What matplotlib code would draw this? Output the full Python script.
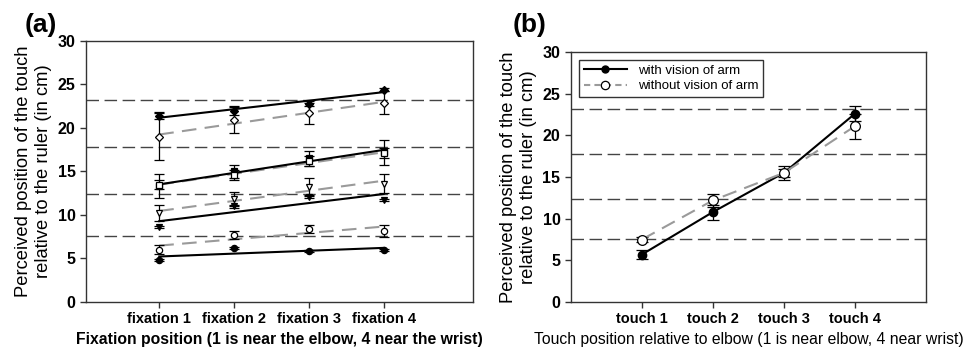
import matplotlib
matplotlib.use("Agg")
import matplotlib.pyplot as plt
from matplotlib.lines import Line2D
import numpy as np

plt.rcParams['font.family'] = ['Liberation Sans', 'DejaVu Sans']

# panel (a): perceived position per fixation, for each touch position
fixations = [1, 2, 3, 4]
fix_labels = ['fixation 1', 'fixation 2', 'fixation 3', 'fixation 4']

vis_t4 = [21.4, 22.0, 22.8, 24.4]
vis_t4_err = [0.4, 0.5, 0.3, 0.2]
novis_t4 = [19.0, 20.9, 21.7, 22.9]
novis_t4_err = [2.7, 1.5, 1.2, 1.3]

vis_t3 = [13.3, 15.0, 16.5, 17.2]
vis_t3_err = [1.4, 0.8, 0.9, 1.4]
novis_t3 = [13.5, 14.6, 16.2, 17.1]
novis_t3_err = [0.5, 0.6, 0.6, 0.6]

vis_t2 = [8.6, 11.0, 12.1, 11.7]
vis_t2_err = [0.1, 0.2, 0.2, 0.1]
novis_t2 = [10.2, 11.8, 13.2, 13.6]
novis_t2_err = [0.9, 0.8, 1.0, 1.1]

vis_t1 = [4.8, 6.2, 5.9, 6.0]
vis_t1_err = [0.1, 0.1, 0.1, 0.1]
novis_t1 = [6.0, 7.7, 8.4, 8.2]
novis_t1_err = [0.5, 0.45, 0.5, 0.7]

# actual touch positions on the ruler
ruler_lines = [7.6, 12.4, 17.8, 23.2]

# panel (b): averaged over fixations
touches = [1, 2, 3, 4]
touch_labels = ['touch 1', 'touch 2', 'touch 3', 'touch 4']
with_vision = [5.7, 10.8, 15.5, 22.6]
with_vision_err = [0.55, 0.9, 0.85, 0.9]
without_vision = [7.5, 12.2, 15.5, 21.1]
without_vision_err = [0.3, 0.8, 0.5, 1.5]

GRAY = '#9a9a9a'
DASH = '#444444'

fig = plt.figure(figsize=(9.66, 3.53), dpi=100)
ax1 = fig.add_axes([0.089, 0.1445, 0.401, 0.7394])
ax2 = fig.add_axes([0.591, 0.1445, 0.3675, 0.708])


def style_axes(ax):
    for s in ax.spines.values():
        s.set_color('#333333')
        s.set_linewidth(1.0)
    ax.set_ylim(0, 30)
    ax.set_yticks([0, 5, 10, 15, 20, 25, 30])
    ax.tick_params(direction='out', length=4, width=1, colors='#333333', labelcolor='black')
    for lab in ax.get_yticklabels():
        lab.set_fontweight('bold')
        lab.set_fontsize(11.5)
    for y in ruler_lines:
        ax.axhline(y, color=DASH, lw=1.0, dashes=(9, 4), zorder=1)
    ax.set_ylabel('Perceived position of the touch\nrelative to the ruler (in cm)',
                  fontsize=13.2, linespacing=1.25, labelpad=4)


# panel (a)
series_a = [
    (vis_t4, vis_t4_err, 'D', 'black', '-', 'black'),
    (novis_t4, novis_t4_err, 'D', 'white', '--', GRAY),
    (vis_t3, vis_t3_err, 's', 'black', '-', 'black'),
    (novis_t3, novis_t3_err, 's', 'white', '--', GRAY),
    (vis_t2, vis_t2_err, 'v', 'black', '-', 'black'),
    (novis_t2, novis_t2_err, 'v', 'white', '--', GRAY),
    (vis_t1, vis_t1_err, 'o', 'black', '-', 'black'),
    (novis_t1, novis_t1_err, 'o', 'white', '--', GRAY),
]
x = np.array(fixations)
for vals, err, mk, fc, ls, lc in series_a:
    ax1.errorbar(x, vals, yerr=err, fmt='none', ecolor='black', elinewidth=0.9,
                 capsize=3.5, capthick=0.9, zorder=3)
    z = np.polyfit(x, vals, 1)
    p = np.poly1d(z)
    if ls == '-':
        ax1.plot(x, p(x), color=lc, lw=1.5, zorder=4)
    else:
        ax1.plot(x, p(x), color=lc, lw=1.5, dashes=(7, 4), zorder=2)
    ax1.plot(x, vals, linestyle='none', marker=mk, markersize=4.5,
             markerfacecolor=fc, markeredgecolor='black', markeredgewidth=0.9, zorder=5)

style_axes(ax1)
ax1.set_xlim(0.02, 5.2)
ax1.set_xticks(fixations)
ax1.set_xticklabels(fix_labels, fontweight='bold', fontsize=10.5)
ax1.set_xlabel('Fixation position (1 is near the elbow, 4 near the wrist)',
               fontsize=11.3, fontweight='bold', labelpad=4)
fig.text(0.026, 0.962, '(a)', fontsize=19, fontweight='bold', va='top')

# panel (b)
xb = np.array(touches)
ax2.errorbar(xb, with_vision, yerr=with_vision_err, color='black', lw=1.5,
             marker='o', markersize=6, markerfacecolor='black', markeredgecolor='black',
             ecolor='black', elinewidth=0.9, capsize=4, capthick=0.9, zorder=4)
ax2.errorbar(xb, without_vision, yerr=without_vision_err, color=GRAY, lw=1.5,
             dashes=(7, 4), marker='o', markersize=7, markerfacecolor='white',
             markeredgecolor='black', markeredgewidth=0.9,
             ecolor='black', elinewidth=0.9, capsize=4, capthick=0.9, zorder=5)
style_axes(ax2)
ax2.set_xlim(0, 5)
ax2.set_xticks(touches)
ax2.set_xticklabels(touch_labels, fontweight='bold', fontsize=10.5)
ax2.set_xlabel('Touch position relative to elbow (1 is near elbow, 4 near wrist)',
               fontsize=11.3, labelpad=4)
handles = [
    Line2D([], [], color='black', lw=1.5, marker='o', markersize=5,
           markerfacecolor='black', markeredgecolor='black'),
    Line2D([], [], color=GRAY, lw=1.5, dashes=(3, 2), marker='o', markersize=6,
           markerfacecolor='white', markeredgecolor='black', markeredgewidth=0.9),
]
leg = ax2.legend(handles, ['with vision of arm', 'without vision of arm'],
                 loc='upper left', fontsize=9.5, frameon=True, fancybox=False,
                 edgecolor='black', borderpad=0.35, labelspacing=0.25,
                 handlelength=3.3, handletextpad=0.8, borderaxespad=0,
                 bbox_to_anchor=(0.0225, 0.968))
leg.get_frame().set_linewidth(1.0)
fig.text(0.531, 0.962, '(b)', fontsize=19, fontweight='bold', va='top')

fig.savefig('out.png', dpi=100)
